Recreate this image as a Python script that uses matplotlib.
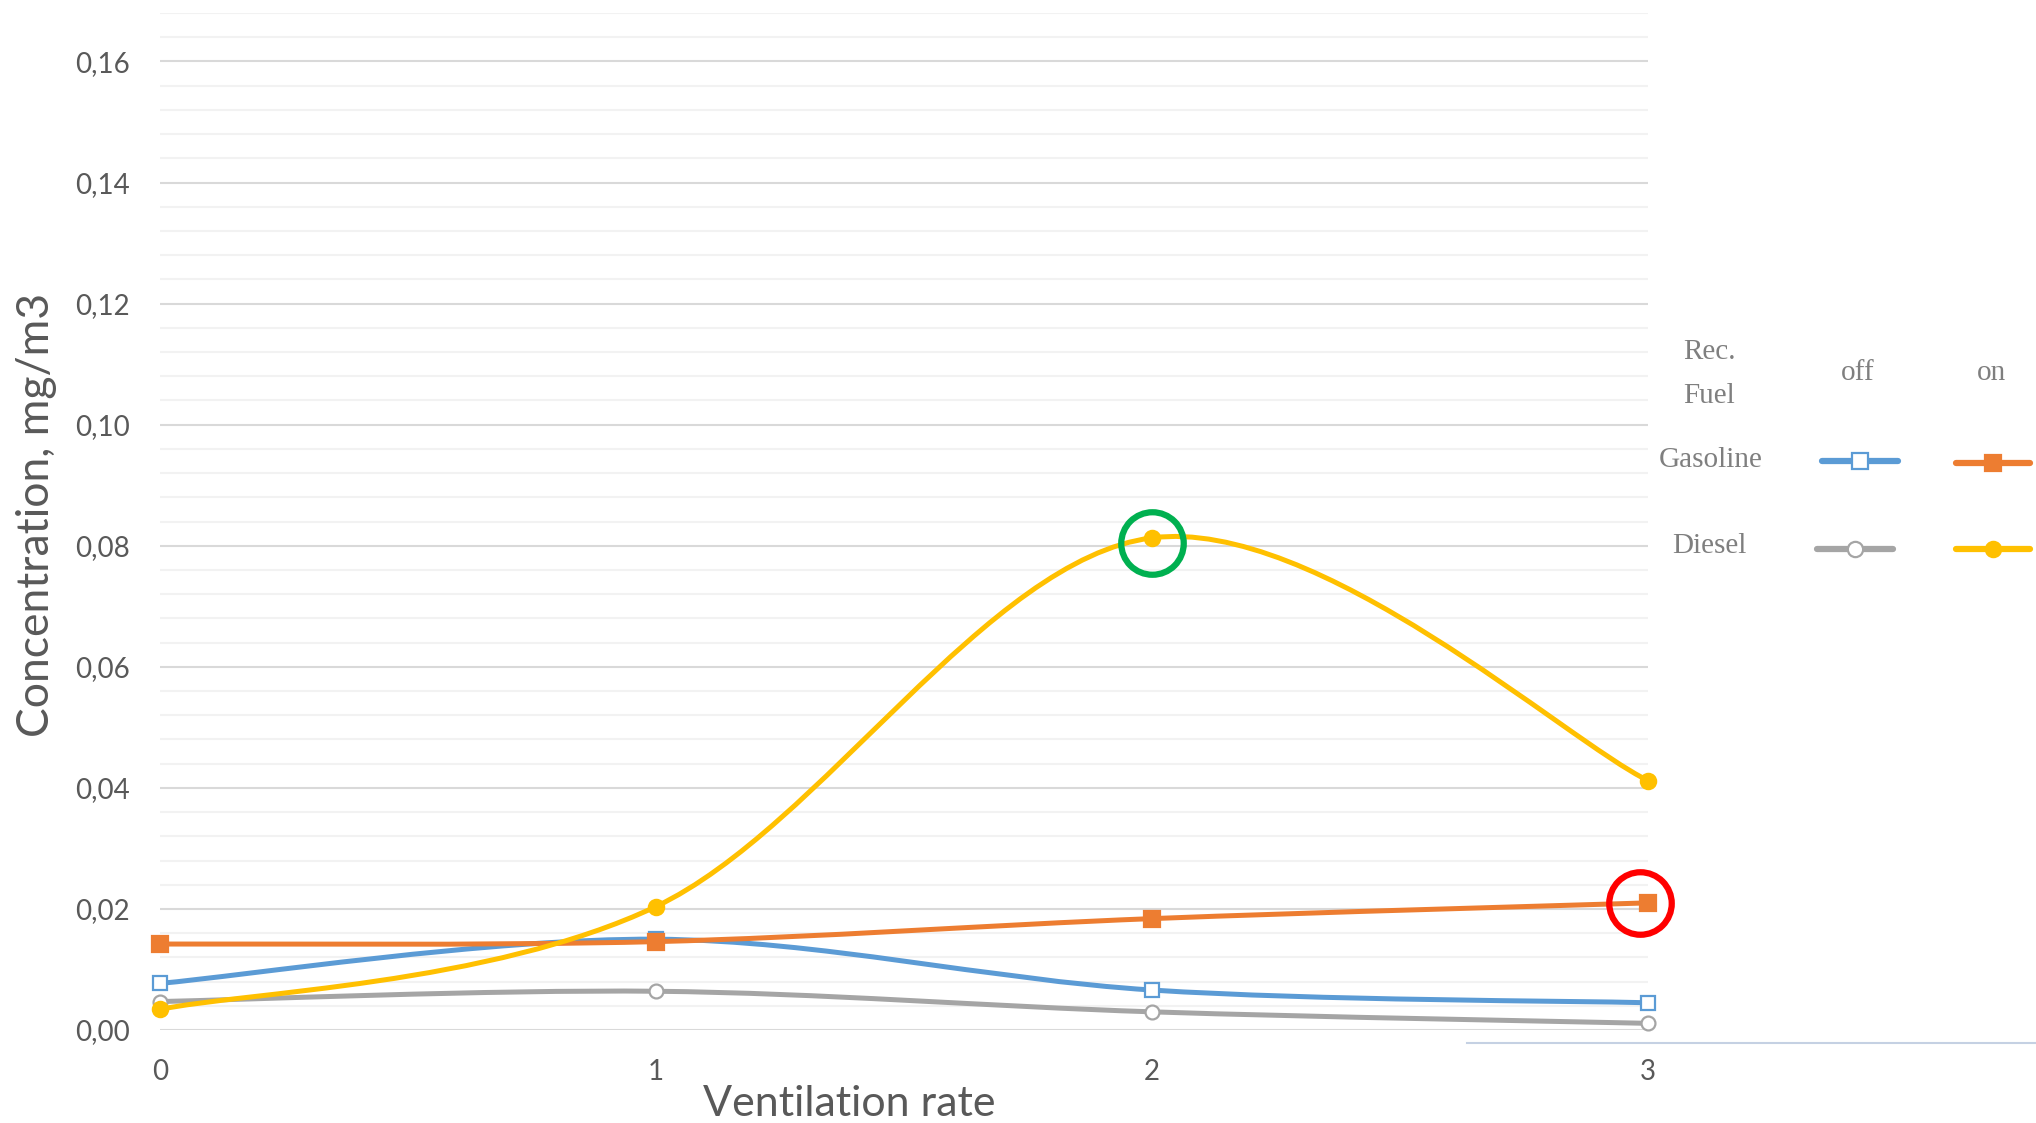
import numpy as np
import matplotlib
matplotlib.use('Agg')
import matplotlib.pyplot as plt
from matplotlib.path import Path
from matplotlib.patches import PathPatch
from matplotlib.lines import Line2D

# data
vent = [0, 1, 2, 3]
gas_off = [0.0077, 0.0150, 0.0066, 0.0045]
gas_on = [0.0142, 0.0146, 0.0184, 0.0210]
dsl_off = [0.0047, 0.0064, 0.0030, 0.0011]
dsl_on = [0.0034, 0.0204, 0.0813, 0.0412]

yticks = [0.00, 0.02, 0.04, 0.06, 0.08, 0.10, 0.12, 0.14, 0.16]
ytick_labels = ['0,00', '0,02', '0,04', '0,06', '0,08', '0,10', '0,12', '0,14', '0,16']

# highlighted points (x, y)
green_mark = (2.0, 0.0804)
red_mark = (2.984, 0.0210)

BLUE, ORANGE, GRAY, YELLOW = '#5b9bd5', '#ed7d31', '#a5a5a5', '#ffc000'
TXT = '#595959'

plt.rcParams['font.family'] = ['Lato', 'DejaVu Sans']


def smooth_path(xs, ys):
    # excel-like smoothed line as cubic bezier segments
    p = np.column_stack([xs, ys]).astype(float)
    n = len(p)
    verts = [p[0]]
    codes = [Path.MOVETO]
    for i in range(n - 1):
        p0 = p[max(i - 1, 0)]
        p3 = p[min(i + 2, n - 1)]
        c1 = p[i] + (p[i + 1] - p0) / 6
        c2 = p[i + 1] - (p3 - p[i]) / 6
        verts += [c1, c2, p[i + 1]]
        codes += [Path.CURVE4] * 3
    return Path(verts, codes)


fig = plt.figure(figsize=(20.36, 11.23), dpi=100)
ax = fig.add_axes([160 / 2036, 93 / 1123, 1488 / 2036, 1017 / 1123])

series = [
    (gas_off, BLUE, 's', 'white', 1),
    (gas_on, ORANGE, 's', ORANGE, 2),
    (dsl_off, GRAY, 'o', 'white', 3),
    (dsl_on, YELLOW, 'o', YELLOW, 4),
]
for ys, col, mk, fc, z in series:
    ax.add_patch(PathPatch(smooth_path(vent, ys), fill=False, ec=col, lw=3.6,
                           capstyle='round', zorder=z, clip_on=False))
    ax.plot(vent, ys, ls='none', marker=mk, ms=10 if fc == 'white' else 11,
            mfc=fc, mec=col, mew=1.6, zorder=z + 0.5, clip_on=False)

# highlight circles
ax.plot(*green_mark, marker='o', ms=45, mfc='none', mec='#00b050', mew=4.5,
        clip_on=False, zorder=10)
ax.plot(*red_mark, marker='o', ms=45, mfc='none', mec='#ff0000', mew=4.5,
        clip_on=False, zorder=10)

ax.set_xlim(0, 3)
ax.set_ylim(0, 0.168)
ax.set_xticks(vent)
ax.set_xticklabels([str(v) for v in vent])
ax.set_yticks(yticks)
ax.set_yticklabels(ytick_labels)
ax.set_yticks(np.arange(0, 0.1681, 0.004), minor=True)
ax.grid(which='major', axis='y', color='#d9d9d9', lw=1.5)
ax.grid(which='minor', axis='y', color='#f2f2f2', lw=1.5)
ax.set_axisbelow(True)
for s in ax.spines.values():
    s.set_visible(False)
ax.tick_params(axis='both', which='both', length=0, labelsize=20, labelcolor=TXT)
ax.tick_params(axis='y', pad=22)
ax.tick_params(axis='x', pad=21)

ax.set_ylabel('Concentration, mg/m3', fontsize=32, color=TXT, va='center')
ax.set_xlabel('Ventilation rate', fontsize=31, color=TXT, va='center')
ax.yaxis.set_label_coords(-0.0833, 0.506)
ax.xaxis.set_label_coords(0.463, -0.073)

# legend table at the right
serif = dict(family='Liberation Serif', color='#7f7f7f', fontsize=21,
             ha='center', va='center')


def fx(px):
    return px / 2036


def fy(py):
    return 1 - py / 1123


fig.text(fx(1709), fy(352), 'Rec.', **serif)
fig.text(fx(1709), fy(396), 'Fuel', **serif)
fig.text(fx(1858), fy(373), 'off', **serif)
fig.text(fx(1992), fy(373), 'on', **serif)
fig.text(fx(1711), fy(460), 'Gasoline', **serif)
fig.text(fx(1709), fy(546), 'Diesel', **serif)

leg_items = [
    (1822, 1898, 461, BLUE, 's', 'white'),
    (1956, 2030, 463, ORANGE, 's', ORANGE),
    (1817, 1893, 549, GRAY, 'o', 'white'),
    (1956, 2030, 549, YELLOW, 'o', YELLOW),
]
for x0, x1, yy, col, mk, fc in leg_items:
    fig.add_artist(Line2D([fx(x0), fx(x1)], [fy(yy), fy(yy)], color=col, lw=4.5,
                          solid_capstyle='round', transform=fig.transFigure))
    fig.add_artist(Line2D([fx((x0 + x1) / 2)], [fy(yy)], marker=mk, ms=11,
                          mfc=fc, mec=col, mew=1.6, ls='none',
                          transform=fig.transFigure))

# faint line at bottom right
fig.add_artist(Line2D([fx(1467), 1], [fy(1043), fy(1043)], color='#c5d1e3', lw=1.5,
                      transform=fig.transFigure))

fig.savefig('out.png', dpi=100)
